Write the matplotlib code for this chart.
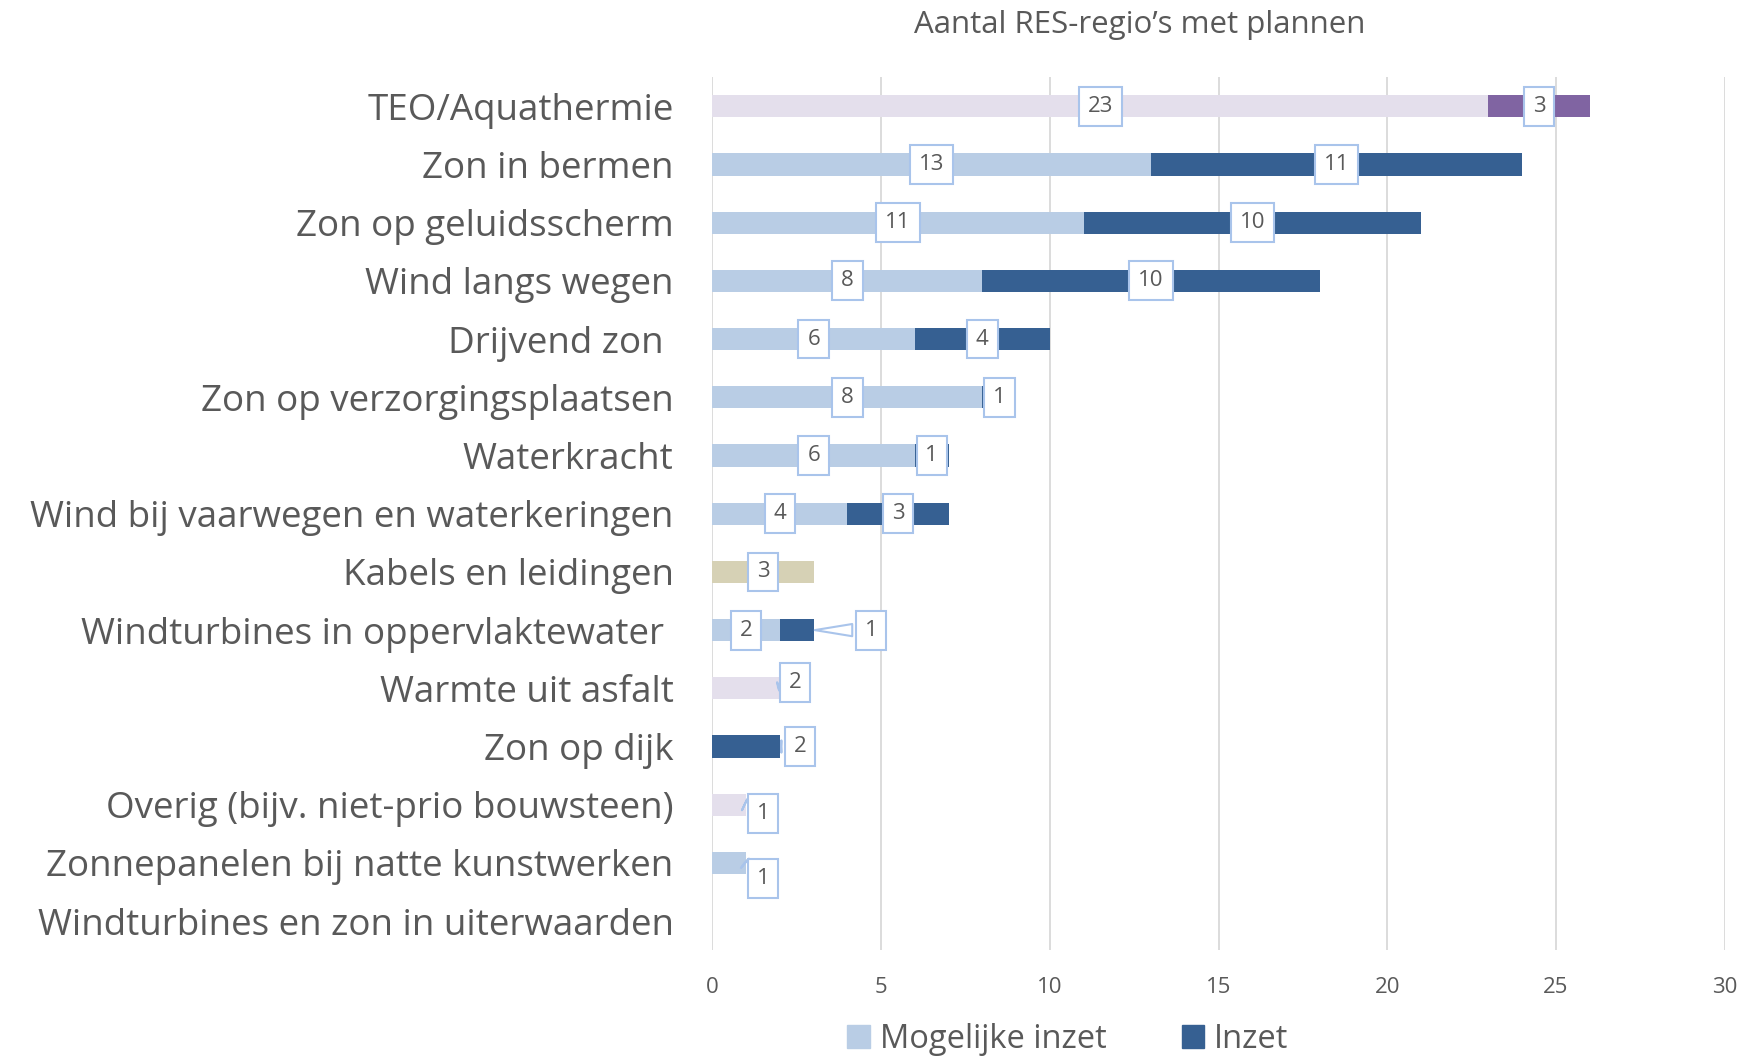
import numpy as np
import matplotlib.pyplot as plt
from matplotlib.patches import Patch

# categories top to bottom
categories = ['TEO/Aquathermie', 'Zon in bermen', 'Zon op geluidsscherm', 'Wind langs wegen',
              'Drijvend zon ', 'Zon op verzorgingsplaatsen', 'Waterkracht',
              'Wind bij vaarwegen en waterkeringen', 'Kabels en leidingen',
              'Windturbines in oppervlaktewater ', 'Warmte uit asfalt', 'Zon op dijk',
              'Overig (bijv. niet-prio bouwsteen)', 'Zonnepanelen bij natte kunstwerken',
              'Windturbines en zon in uiterwaarden']
mogelijk = [23, 13, 11, 8, 6, 8, 6, 4, 3, 2, 2, 0, 1, 1, 0]
inzet = [3, 11, 10, 10, 4, 1, 1, 3, 0, 1, 0, 2, 0, 0, 0]
# colour scheme per row: 'blue', 'purple' or 'khaki'
scheme = ['purple', 'blue', 'blue', 'blue', 'blue', 'blue', 'blue', 'blue', 'khaki',
          'blue', 'purple', 'blue', 'purple', 'blue', 'blue']

colors = {'blue': ('#B9CDE5', '#366092'),
          'purple': ('#E4DFEC', '#8064A2'),
          'khaki': ('#D6D1B5', '#D6D1B5')}

# labels that sit outside the bar as callouts: (row, segment) -> (dx, dy)
callouts = {(9, 1): (1.7, 0.0), (10, 0): (0.45, -0.1), (11, 1): (0.6, 0.0),
            (12, 0): (0.5, 0.15), (13, 0): (0.5, 0.27)}

txt_col = '#595959'
edge_col = '#A9C4EB'
plt.rcParams['font.family'] = ['Open Sans', 'DejaVu Sans']

fig = plt.figure(figsize=(17.42, 10.57), dpi=100)
ax = fig.add_axes([0.409, 0.101, 0.581, 0.826])

y = np.arange(len(categories))
h = 0.38
for i in range(len(categories)):
    c1, c2 = colors[scheme[i]]
    if mogelijk[i] > 0:
        ax.barh(y[i], mogelijk[i], height=h, color=c1, zorder=2)
    if inzet[i] > 0:
        ax.barh(y[i], inzet[i], left=mogelijk[i], height=h, color=c2, zorder=2)

box = dict(boxstyle='square,pad=0.4', fc='white', ec=edge_col, lw=1.5)
for i in range(len(categories)):
    segs = [(0, mogelijk[i], 0), (mogelijk[i], inzet[i], 1)]
    for start, val, k in segs:
        if val <= 0:
            continue
        xc = start + val / 2
        if (i, k) in callouts:
            dx, dy = callouts[(i, k)]
            xe = start + val
            ax.annotate(str(val), xy=(xe - 0.05, y[i]),
                        xytext=(xe + dx, y[i] + dy), ha='center', va='center',
                        fontsize=16, color=txt_col, zorder=5,
                        bbox=box,
                        arrowprops=dict(arrowstyle='wedge,tail_width=0.55,shrink_factor=0.5',
                                        fc='white', ec=edge_col, lw=1.5))
        else:
            ax.text(xc, y[i], str(val), ha='center', va='center', fontsize=16,
                    color=txt_col, bbox=box, zorder=5)

ax.set_xlim(0, 30)
ax.set_ylim(len(categories) - 0.5, -0.5)
ax.set_xticks(np.arange(0, 31, 5))
ax.set_yticks(y)
ax.set_yticklabels(categories, fontsize=26.5, color=txt_col)
ax.tick_params(axis='x', length=0, pad=19, labelsize=16, labelcolor=txt_col)
ax.tick_params(axis='y', length=0, pad=28)
ax.grid(axis='x', color='#D9D9D9', lw=1.3, zorder=0)
ax.set_axisbelow(True)
for s in ax.spines.values():
    s.set_visible(False)

fig.text(0.654, 0.976, 'Aantal RES-regio\u2019s met plannen', ha='center', va='center',
         fontsize=22.5, color=txt_col)

handles = [Patch(color=colors['blue'][0], label='Mogelijke inzet'),
           Patch(color=colors['blue'][1], label='Inzet')]
fig.legend(handles=handles, loc='center', bbox_to_anchor=(0.613, 0.017), ncol=2,
           frameon=False, fontsize=23.5, labelcolor=txt_col, handlelength=0.7,
           handleheight=0.7, handletextpad=0.3, columnspacing=2.3)

fig.savefig('out.png', dpi=100)
